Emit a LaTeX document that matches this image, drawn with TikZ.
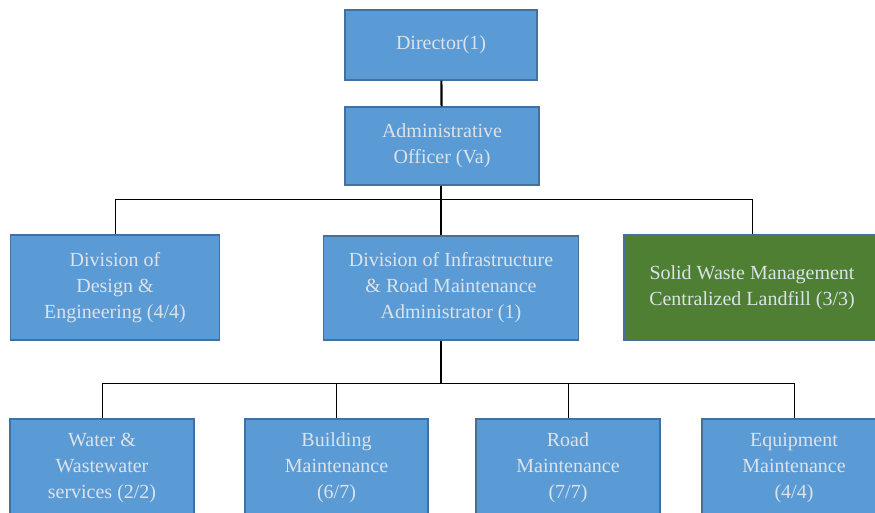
\documentclass[tikz,border=0pt]{standalone}
\usepackage{fontspec}
\setmainfont{Liberation Serif}
\definecolor{boxblue}{HTML}{5B9BD5}
\definecolor{boxedge}{HTML}{41719C}
\definecolor{boxgreen}{HTML}{4E7F33}
\definecolor{boxtext}{HTML}{DCE2EA}
\tikzset{
  unit/.style={draw=boxedge, line width=1.4pt, fill=boxblue, text=boxtext,
    align=center, inner sep=0pt, font=\fontsize{20}{26}\selectfont},
  vh/.style={to path={|- (\tikztotarget)}},
  link/.style={draw=black, line width=0.8pt},
  trunk/.style={draw=black, line width=2.2pt},
}

\begin{document}
\begin{tikzpicture}[x=1pt,y=-1pt]
\useasboundingbox (0,0) rectangle (875,512);
\node[unit, minimum width=192pt, minimum height=70pt] (Pdir) at (441,45) {Director(1)};
\node[unit, minimum width=194pt, minimum height=78pt] (Padm) at (442,146) {Administrative\\Officer (Va)};
\node[unit, minimum width=209pt, minimum height=105pt] (Pdes) at (115,287.5) {Division of\\Design \&\\Engineering (4/4)};
\node[unit, minimum width=255pt, minimum height=104pt] (Pinf) at (451,288) {Division of Infrastructure\\\& Road Maintenance\\Administrator (1)};
\node[unit, fill=boxgreen, minimum width=256pt, minimum height=105pt] (Pswm) at (752,287.5) {Solid Waste Management\\Centralized Landfill (3/3)};
\node[unit, minimum width=184pt, minimum height=98pt] (Pwat) at (102,468) {Water \&\\Wastewater\\services (2/2)};
\node[unit, minimum width=183pt, minimum height=98pt] (Pbld) at (336.5,468) {Building\\Maintenance\\(6/7)};
\node[unit, minimum width=184pt, minimum height=98pt] (Prd) at (568,468) {Road\\Maintenance\\(7/7)};
\node[unit, minimum width=184pt, minimum height=98pt] (Peq) at (794,468) {Equipment\\Maintenance\\(4/4)};
\coordinate (hubA) at (441,199);
\coordinate (hubB) at (441,383);

\path[trunk]
(Pdir) edge (Padm)
(Padm.south -| hubA) edge (Pinf.north -| hubA)
(Pinf.south -| hubB) edge (hubB);

\path[link]
(Pdes.north) edge[vh] (hubA)
(Pswm.north) edge[vh] (hubA)
(Pwat.north) edge[vh] (hubB)
(Pbld.north) edge (Pbld.north |- hubB)
(Prd.north) edge (Prd.north |- hubB)
(Peq.north) edge[vh] (hubB);
\end{tikzpicture}
\end{document}
